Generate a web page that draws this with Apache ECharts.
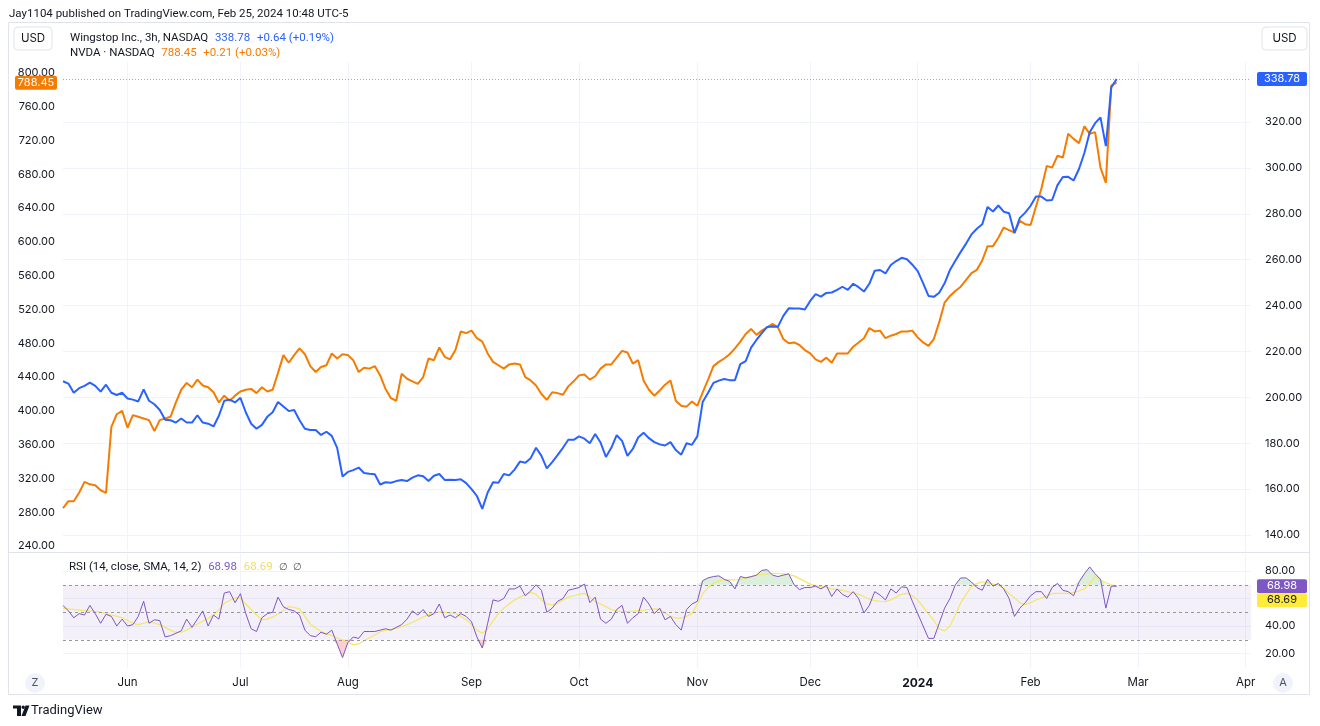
<!DOCTYPE html>
<html><head><meta charset="utf-8">
<script src="https://cdn.jsdelivr.net/npm/echarts@6/dist/echarts.min.js"></script>
<style>html,body{margin:0;padding:0;background:#fff}#c{width:1320px;height:726px}</style>
</head><body><div id="c"></div>
<script>
// ---------- data ----------
const startDate = '2023-05-15';
const endDate = '2024-04-02';
const holidays = ['2023-05-29','2023-06-19','2023-07-04','2023-09-04','2023-11-23','2023-12-25','2024-01-01','2024-01-15','2024-02-19','2024-03-29'];
const monthNames = ['Jan','Feb','Mar','Apr','May','Jun','Jul','Aug','Sep','Oct','Nov','Dec'];

// NVDA (left scale)
const nvda = [285,293,293,303,316,313,312,306,303,381,
396,400,380,395,393,391,389,376,389,391,
393,410,425,433,428,437,430,428,422,410,
418,412,418,423,425,426,421,428,423,425,
445,466,457,466,474,467,453,446,452,454,
468,462,467,466,460,446,451,450,453,442,
426,415,412,444,438,435,432,440,462,460,
475,464,461,472,494,492,495,486,482,468,
458,454,450,455,456,455,440,436,430,420,
413,422,421,419,429,435,442,443,437,441,
450,455,455,463,471,469,456,460,436,425,
418,424,431,436,412,406,405,411,406,422,
437,453,458,462,467,474,482,491,497,490,
495,499,503,499,485,480,481,478,472,468,
461,458,463,457,468,468,468,476,481,486,
498,494,495,486,489,491,494,494,495,487,
481,477,485,505,528,536,542,547,555,563,
567,578,595,595,605,617,614,611,625,621,
620,642,663,690,688,702,700,728,722,717,
737,728,730,688,670,785,788.45];

// Wingstop (right scale)
const wing = [207,206,202,204,205,206.4,205,202.5,205.5,202,
201,202,199.5,199,198.2,203.5,198.5,197,194.5,190.2,
190,189,190.8,189,189,192.2,189,188.5,187.3,192,
198.5,199,197.8,199.8,193.5,188.5,186.3,188,191.5,193.5,
198,196,194,194.5,190,186.3,185.8,185.8,183.6,185,
183.2,178,165.5,167.5,168.3,169.4,167,166.7,166.5,162,
163,162.8,163.5,164,163.5,165,166,165.6,163.5,165.8,
166.6,164,164.1,164,164.3,162.6,160,157,151.4,158.5,
163,162.8,166.6,166,168.5,172,171.5,173.5,178,174.5,
169,171.8,174.8,178,181.5,181.5,183,182,180,184,
180.3,174,178,183.5,181,174.5,177.5,182.5,184.6,182.2,
180.5,179.5,179,180.5,177,175,180,179.3,183,198,
202,206.3,207.3,208,207.5,207.5,214.5,215.8,221.7,225,
228,230.7,230.9,230.8,235.5,238.8,238.7,238.7,238.3,242,
245,243.9,245.5,245.7,246.8,248.2,246.8,249.5,248,246.1,
249.5,255.2,255.5,254,257.7,259.4,260.8,260.2,257.8,255,
249.8,244.2,243.8,245.6,249.7,255.5,259.5,263.4,267,271,
273.5,275.4,283,281,283.6,280.9,280.2,271.6,278.2,280.5,
283.5,287.5,287.5,285.8,286,292.5,296,296.1,294.5,299.5,
306.5,315.5,319.5,322,309.5,335,338.78];

// RSI (14) and its SMA
const rsi = [55,51,46,49,48,55,49,42,48.5,47,
40,45,40,41,47,58,42,44.5,44,32,
33,34.7,36.5,45,39,45,51,40,48,45,
64,65,57,63.5,49,38,36,46,49,50,
61,54,52,51,48,37,33,32.2,35.5,34,
37,27,17,28,32,31,36,36,36,37,
38,37,39,41,45,51,48,52,47,49,
56,46,48,46,49,47,43,32,24,42,
59,58,60,67,67,69,62,65.5,70,66,
50,53,58,60,66,67,68,70.5,57,61,
45,42,45,52,55,42,46,49,61,56,
49,53,44.5,47,41,37,52,56,58,73,
75,76,76.5,74,72.5,67,76,75,75.9,77,
80.5,81,77,76,77,78,70,66.5,68,68,
69,67,69.5,61.5,67,63,61,65,60,49.5,
55,65,62.5,59,67,64,68.5,68,58,49,
40,31,31,42,53,60,70,75,75,72,
68,66,74,69,71,67,60,47,53,57,
62,65,65,60,68,71,66,65,62,72,
78,83,78,74,53,69,68.98];

const rsiMa = [53,52.5,52,51.5,51,51,50.5,50,49,48,
47,46,44,42,41,42,43,42,41,39,
37,35.5,35.5,37,39.5,41.5,43.5,45.5,48,52,
56.5,58.5,60.5,60.5,56,52,48,44.5,45,46.5,
48.5,51.5,54,53.5,52.5,47,41.5,38.5,36,34.5,
33,31.5,29.8,28,26.5,27,29.5,31.5,33.5,35.9,
36.8,37.5,38.3,39.5,41,42.7,44.5,46.5,48.3,49.5,
50.4,50,49.6,49.2,47,44.5,41,37,34.7,38,
43.5,49,53,56,59,61,63,64.5,63,59,
56,55.3,56.5,59,61,62,63,63.8,61,57.7,
56,54,52,51,50.5,50.4,50.8,51.3,51.6,52,
52.5,52,49.5,47,45.8,45.8,47,49,56,63.5,
68,71,73,73.5,73.5,73.5,74,75,76,77,
77.5,78,78.3,78.2,78,77.5,76.5,74.5,72.5,70.5,
69.5,68.7,68,67,66.5,66,65,64,63,61.5,
59.5,58.5,58,57.7,59,61,63,63.8,62,59,
54,49,44,38,36.5,40,48,57,63,68.6,
71,72.2,71.5,70.5,69.8,67.5,63.5,60.5,57,55.5,
57,58.9,60.5,62,63.5,63.8,63.8,63.8,64.5,65.5,
67,71,75.9,73.5,71.5,70,68.69];

const leftTicks = [240,280,320,360,400,440,480,520,560,600,640,680,720,760,800];
const rightTicks = [140,160,180,200,220,240,260,280,300,320];
const rsiLabelTicks = [20,40,80];
const rsiGridTicks = [20,40,60,80];
const rsiLevels = [70,50,30];
const wingChange = '+0.64 (+0.19%)';
const nvdaChange = '+0.21 (+0.03%)';

// ---------- helpers ----------
function tradingDays(s, e, hol) {
  const out = [];
  const d = new Date(s + 'T12:00:00Z');
  const end = new Date(e + 'T12:00:00Z');
  while (d <= end) {
    const w = d.getUTCDay();
    const iso = d.toISOString().slice(0, 10);
    if (w !== 0 && w !== 6 && hol.indexOf(iso) < 0) out.push(iso);
    d.setUTCDate(d.getUTCDate() + 1);
  }
  return out;
}
const cats = tradingDays(startDate, endDate, holidays);
const isMonthStart = i => i > 0 && cats[i].slice(0, 7) !== cats[i - 1].slice(0, 7);

const FONT = 'Inter';
const TFONT = 'Roboto';
const TXT = '#131722';
const GRID = '#f0f3fa';
const BLUE = '#2962ff';
const ORANGE = '#f57c00';
const PURPLE = '#7e57c2';
const YELLOW = '#f5e663';

const chart = echarts.init(document.getElementById('c'), null, {renderer: 'canvas'});

const xBase = {
  type: 'category', data: cats, boundaryGap: false,
  axisLine: {show: false}, axisTick: {show: false},
  splitLine: {show: true, interval: (i) => isMonthStart(i), lineStyle: {color: GRID, width: 1}}
};

const option = {
  animation: false,
  backgroundColor: '#fff',
  textStyle: {fontFamily: FONT},
  grid: [
    {left: 63, right: 69, top: 62, height: 489},
    {left: 63, right: 69, top: 554, height: 114}
  ],
  xAxis: [
    Object.assign({}, xBase, {gridIndex: 0, axisLabel: {show: false}}),
    Object.assign({}, xBase, {gridIndex: 1, axisLabel: {
      show: true, interval: (i) => isMonthStart(i), margin: 9, color: TXT, fontSize: 11.5, fontFamily: FONT,
      formatter: (v) => {
        const m = +v.slice(5, 7);
        return m === 1 ? '{b|' + v.slice(0, 4) + '}' : monthNames[m - 1];
      },
      rich: {b: {fontWeight: 'bold', fontSize: 12, color: TXT, fontFamily: FONT}}
    }})
  ],
  yAxis: [
    {type: 'value', gridIndex: 0, position: 'left', min: 234.1, max: 813.0,
     axisLine: {show: false}, axisTick: {show: false, customValues: leftTicks},
     axisLabel: {customValues: leftTicks, formatter: v => v.toFixed(2), margin: 8, color: TXT, fontSize: 11, fontFamily: FONT},
     splitLine: {show: false}},
    {type: 'value', gridIndex: 0, position: 'right', min: 133.03, max: 346.15,
     axisLine: {show: false}, axisTick: {show: false, customValues: rightTicks},
     axisLabel: {customValues: rightTicks, formatter: v => v.toFixed(2), margin: 14, color: TXT, fontSize: 11, fontFamily: FONT},
     splitLine: {show: true, lineStyle: {color: GRID}}},
    {type: 'value', gridIndex: 1, position: 'right', min: 9.45, max: 92.4,
     axisLine: {show: false}, axisTick: {show: false, customValues: rsiGridTicks},
     axisLabel: {customValues: rsiLabelTicks, formatter: v => v.toFixed(2), margin: 14, color: TXT, fontSize: 11, fontFamily: FONT},
     splitLine: {show: true, lineStyle: {color: GRID}}}
  ],
  series: [
    {name: 'NVDA', type: 'line', xAxisIndex: 0, yAxisIndex: 0, data: nvda, symbol: 'none',
     lineStyle: {color: ORANGE, width: 2}, itemStyle: {color: ORANGE}, z: 3},
    {name: 'Wingstop', type: 'line', xAxisIndex: 0, yAxisIndex: 1, data: wing, symbol: 'none',
     lineStyle: {color: BLUE, width: 2}, itemStyle: {color: BLUE}, z: 4,
     markLine: {silent: true, symbol: 'none', label: {show: false},
       lineStyle: {color: BLUE, type: [1, 2], width: 1, opacity: 0.55},
       data: [{yAxis: wing[wing.length - 1]}]}},
    {name: 'RSI OB', type: 'line', xAxisIndex: 1, yAxisIndex: 2, data: rsi.map(v => Math.max(v, 70)), symbol: 'none',
     lineStyle: {width: 0}, areaStyle: {origin: 70, color: 'rgba(76,175,80,0.28)'}, z: 2, silent: true},
    {name: 'RSI OS', type: 'line', xAxisIndex: 1, yAxisIndex: 2, data: rsi.map(v => Math.min(v, 30)), symbol: 'none',
     lineStyle: {width: 0}, areaStyle: {origin: 30, color: 'rgba(242,54,69,0.35)'}, z: 2, silent: true},
    {name: 'RSI MA', type: 'line', xAxisIndex: 1, yAxisIndex: 2, data: rsiMa, symbol: 'none',
     lineStyle: {color: YELLOW, width: 1.2}, itemStyle: {color: YELLOW}, z: 4},
    {name: 'RSI', type: 'line', xAxisIndex: 1, yAxisIndex: 2, data: rsi, symbol: 'none',
     lineStyle: {color: PURPLE, width: 1}, itemStyle: {color: PURPLE}, z: 5,
     markArea: {silent: true, itemStyle: {color: 'rgba(126,87,194,0.09)'}, data: [[{yAxis: 30}, {yAxis: 70}]]},
     markLine: {silent: true, symbol: 'none', label: {show: false},
       lineStyle: {color: '#9598a1', type: [3, 3], width: 1},
       data: rsiLevels.map(v => ({yAxis: v}))}}
  ]
};
chart.setOption(option);

// ---------- overlay texts / tags ----------
const lastN = nvda[nvda.length - 1], lastW = wing[wing.length - 1];
const lastR = rsi[rsi.length - 1], lastM = rsiMa[rsiMa.length - 1];
const yN = chart.convertToPixel({yAxisIndex: 0}, lastN);
const yW = chart.convertToPixel({yAxisIndex: 1}, lastW);
const yR = chart.convertToPixel({yAxisIndex: 2}, lastR);
const yM = Math.max(chart.convertToPixel({yAxisIndex: 2}, lastM), yR + 14);

function tag(x, y, w, bg, fg, txt) {
  return [
    {type: 'rect', shape: {x: x, y: y - 7, width: w, height: 14, r: 2}, style: {fill: bg}, z: 100},
    {type: 'text', x: x + w / 2, y: y, style: {text: txt, fill: fg, font: '11px ' + FONT, align: 'center', verticalAlign: 'middle'}, z: 101}
  ];
}
function box(x, y, w, h, txt) {
  return [
    {type: 'rect', shape: {x: x, y: y, width: w, height: h, r: 4}, style: {fill: '#fff', stroke: '#e0e3eb', lineWidth: 1}, z: 100},
    {type: 'text', x: x + w / 2, y: y + h / 2, style: {text: txt, fill: TXT, font: '11.5px ' + FONT, align: 'center', verticalAlign: 'middle'}, z: 101}
  ];
}
function circleBtn(cx, cy, txt) {
  return [
    {type: 'circle', shape: {cx: cx, cy: cy, r: 10}, style: {fill: '#f0f3fa'}, z: 100},
    {type: 'text', x: cx, y: cy, style: {text: txt, fill: '#50535e', font: '11px ' + FONT, align: 'center', verticalAlign: 'middle'}, z: 101}
  ];
}

const F = '11.5px ' + TFONT;
const g = [];
// frame and pane separator
g.push({type: 'rect', shape: {x: 8.5, y: 22.5, width: 1301, height: 672}, style: {fill: 'none', stroke: '#e0e3eb', lineWidth: 1}, z: 90});
g.push({type: 'line', shape: {x1: 8, y1: 552.5, x2: 1309, y2: 552.5}, style: {stroke: '#e0e3eb', lineWidth: 1}, z: 90});
// header
g.push({type: 'text', x: 9, y: 14, style: {text: 'Jay1104 published on TradingView.com, Feb 25, 2024 10:48 UTC-5', fill: TXT, font: F, verticalAlign: 'middle'}, z: 101});
g.push(...box(14, 27, 38, 23, 'USD'));
g.push(...box(1262, 27, 45, 23, 'USD'));
// legends
g.push({type: 'text', x: 70, y: 38, style: {
  text: '{a|Wingstop Inc., 3h, NASDAQ}  {b|' + lastW.toFixed(2) + '}  {b|' + wingChange + '}',
  verticalAlign: 'middle', rich: {a: {fill: TXT, font: F}, b: {fill: BLUE, font: F}}}, z: 101});
g.push({type: 'text', x: 70, y: 53, style: {
  text: '{a|NVDA · NASDAQ}  {b|' + lastN.toFixed(2) + '}  {b|' + nvdaChange + '}',
  verticalAlign: 'middle', rich: {a: {fill: TXT, font: F}, b: {fill: ORANGE, font: F}}}, z: 101});
g.push({type: 'text', x: 69, y: 567, style: {
  text: '{a|RSI (14, close, SMA, 14, 2)}  {p|' + lastR.toFixed(2) + '}  {y|' + lastM.toFixed(2) + '}  {g|∅  ∅}',
  verticalAlign: 'middle', rich: {a: {fill: TXT, font: F}, p: {fill: PURPLE, font: F},
  y: {fill: '#f2e05a', font: F}, g: {fill: '#50535e', font: '10px ' + TFONT}}}, z: 101});
// price tags
g.push(...tag(15, yN, 42, ORANGE, '#fff', lastN.toFixed(2)));
g.push(...tag(1257, yW, 50, BLUE, '#fff', lastW.toFixed(2)));
g.push(...tag(1257, yR, 50, PURPLE, '#fff', lastR.toFixed(2)));
g.push(...tag(1257, yM, 50, '#ffeb3b', TXT, lastM.toFixed(2)));
// Z / A buttons
g.push(...circleBtn(35, 683, 'Z'));
g.push(...circleBtn(1283, 683, 'A'));
// TradingView logo
g.push({type: 'polygon', shape: {points: [[13, 705.5], [21, 705.5], [21, 716], [17, 716], [17, 708.5], [13, 708.5]]}, style: {fill: TXT}, z: 101});
g.push({type: 'circle', shape: {cx: 23.2, cy: 707.2, r: 1.7}, style: {fill: TXT}, z: 101});
g.push({type: 'polygon', shape: {points: [[25.5, 705.5], [29.5, 705.5], [25.5, 716], [21.5, 716]]}, style: {fill: TXT}, z: 101});
g.push({type: 'text', x: 31, y: 711, style: {text: 'TradingView', fill: TXT, font: '13px ' + TFONT, verticalAlign: 'middle'}, z: 101});

chart.setOption({graphic: g});
</script>
</body></html>
